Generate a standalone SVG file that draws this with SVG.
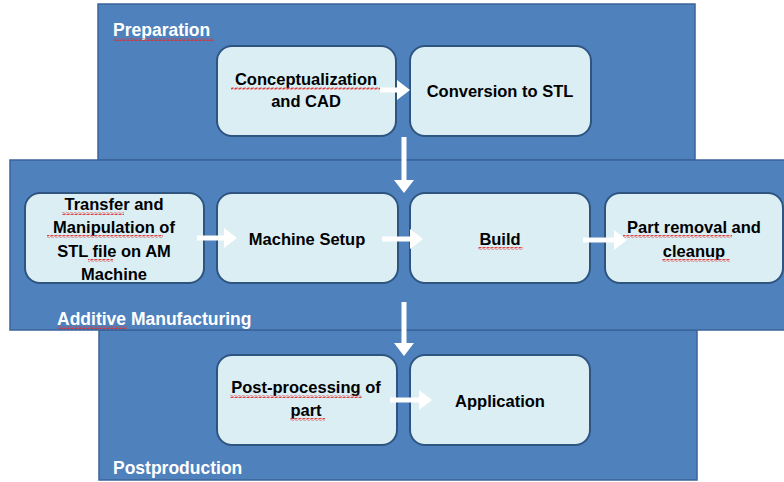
<svg xmlns="http://www.w3.org/2000/svg" width="784" height="482" viewBox="0 0 784 482">
<defs>
<style>
.panel{fill:#4F81BD;stroke:#3A649A;stroke-width:1.5}
.node rect.box{fill:#DBEEF4;stroke:#2E5580;stroke-width:2}
.t{font-family:"Liberation Sans",Arial,sans-serif;font-weight:bold;font-size:16.5px;fill:#000;text-anchor:middle}
.pl{font-family:"Liberation Sans",Arial,sans-serif;font-weight:bold;font-size:17.5px;fill:#FFFFFF}
.arr{stroke:#FFFFFF;stroke-width:5;fill:none}
rect.sq{fill:url(#squig);stroke:none}
</style>
<pattern id="squig" width="4" height="3" patternUnits="userSpaceOnUse">
<path d="M0 2.5 L1 0.5 L3 2.5 L4 0.5" stroke="#E03030" stroke-width="0.9" fill="none"/>
</pattern>
<marker id="ah" markerWidth="4" markerHeight="4" refX="0" refY="2" orient="auto" markerUnits="strokeWidth" viewBox="0 0 4 4">
<path d="M0 0 L2.6 2 L0 4 Z" fill="#FFFFFF"/>
</marker>
</defs>
<rect width="784" height="482" fill="#FFFFFF"/>
<g id="panel-preparation">
<rect class="panel" x="98" y="4" width="597" height="156"/>
<text class="pl" x="113" y="36">Preparation</text>
<rect class="sq" x="113" y="38" width="101" height="3"/>
</g>
<g id="panel-postproduction">
<rect class="panel" x="99" y="330" width="598" height="150"/>
<text class="pl" x="113" y="474">Postproduction</text>
</g>
<g id="panel-am">
<rect class="panel" x="10" y="160" width="790" height="170"/>
<text class="pl" x="57" y="325">Additive Manufacturing</text>
<rect class="sq" x="57" y="326" width="70" height="3"/>
</g>
<g id="n-concept" class="node">
<rect class="box" x="217" y="46" width="179" height="90" rx="15"/>
<text class="t" x="306" y="85">Conceptualization</text>
<text class="t" x="306" y="107">and CAD</text>
<rect class="sq" x="231" y="87" width="149" height="3"/>
</g>
<g id="n-stl" class="node">
<rect class="box" x="410" y="46" width="181" height="90" rx="15"/>
<text class="t" x="500" y="97">Conversion to STL</text>
</g>
<g id="n-transfer" class="node">
<rect class="box" x="25" y="193" width="179" height="90" rx="15"/>
<text class="t" x="114" y="210">Transfer and</text>
<text class="t" x="114" y="233">Manipulation of</text>
<text class="t" x="114" y="257">STL file on AM</text>
<text class="t" x="114" y="280">Machine</text>
<rect class="sq" x="62" y="212" width="62" height="3"/>
<rect class="sq" x="47" y="235" width="116" height="3"/>
<rect class="sq" x="88" y="259" width="25" height="3"/>
</g>
<g id="n-setup" class="node">
<rect class="box" x="217" y="193" width="181" height="90" rx="15"/>
<text class="t" x="307" y="245">Machine Setup</text>
</g>
<g id="n-build" class="node">
<rect class="box" x="410" y="193" width="180" height="90" rx="15"/>
<text class="t" x="500" y="245">Build</text>
<rect class="sq" x="478" y="247" width="45" height="3"/>
</g>
<g id="n-removal" class="node">
<rect class="box" x="605" y="193" width="178" height="90" rx="15"/>
<text class="t" x="694" y="233">Part removal and</text>
<text class="t" x="694" y="257">cleanup</text>
<rect class="sq" x="623" y="235" width="109" height="3"/>
<rect class="sq" x="662" y="259" width="68" height="3"/>
</g>
<g id="n-post" class="node">
<rect class="box" x="217" y="355" width="180" height="90" rx="15"/>
<text class="t" x="306" y="393">Post-processing of</text>
<text class="t" x="306" y="416">part</text>
<rect class="sq" x="230" y="395" width="132" height="3"/>
<rect class="sq" x="290" y="418" width="35" height="3"/>
</g>
<g id="n-app" class="node">
<rect class="box" x="410" y="355" width="180" height="90" rx="15"/>
<text class="t" x="500" y="407">Application</text>
</g>
<g id="connectors">
<line class="arr" x1="380" y1="90" x2="397" y2="90" marker-end="url(#ah)"/>
<line class="arr" x1="404" y1="137" x2="404" y2="180" marker-end="url(#ah)"/>
<line class="arr" x1="197" y1="238" x2="224" y2="238" marker-end="url(#ah)"/>
<line class="arr" x1="382" y1="239" x2="410" y2="239" marker-end="url(#ah)"/>
<line class="arr" x1="583" y1="240" x2="614" y2="240" marker-end="url(#ah)"/>
<line class="arr" x1="404" y1="302" x2="404" y2="343" marker-end="url(#ah)"/>
<line class="arr" x1="390" y1="400" x2="419" y2="400" marker-end="url(#ah)"/>
</g>
</svg>
